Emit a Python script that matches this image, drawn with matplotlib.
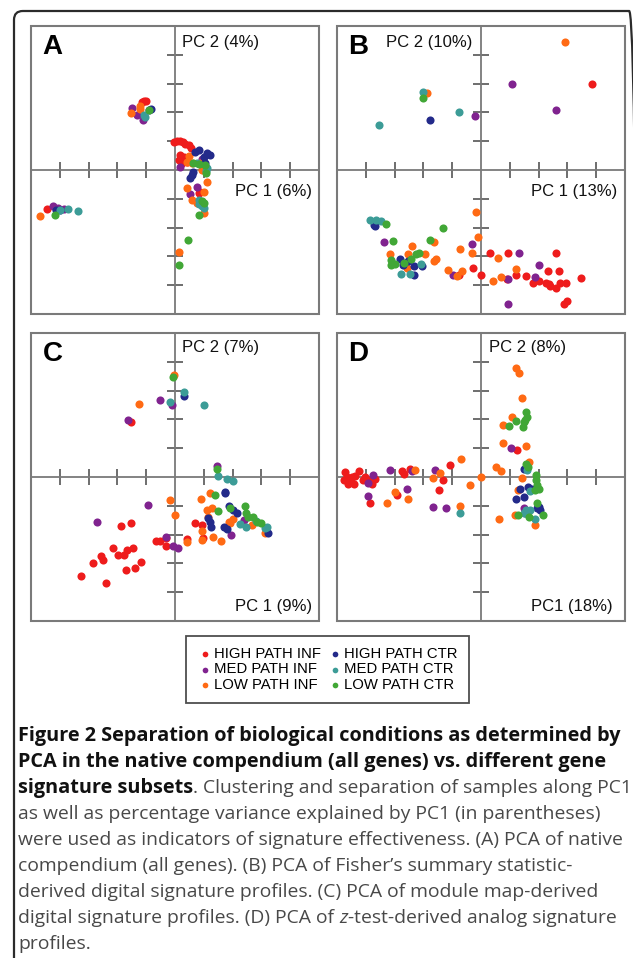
import matplotlib
matplotlib.use("Agg")
import matplotlib.pyplot as plt
from matplotlib.patches import Rectangle, FancyBboxPatch

# --- Configuration ---
plt.rcParams["font.family"] = ["Liberation Sans", "DejaVu Sans"]

W, H = 633, 958
DPI = 100

groups = ["HIGH PATH INF", "MED PATH INF", "LOW PATH INF",
          "HIGH PATH CTR", "MED PATH CTR", "LOW PATH CTR"]
colors = ["#ee1c1c", "#80238f", "#ff6a14", "#232a8a", "#3c9c97", "#41a736"]

# --- Data (PC1, PC2 scores, 1 unit = 1 tick) ---
A_HIGH_INF = [(-1.08, 2.41), (-1.14, 2.36), (-1.01, 2.41), (-4.44, -1.34),
              (-0.05, 0.98), (0.07, 0.99), (0.18, 1.01), (0.28, 0.97), (0.36, 0.92),
              (0.47, 0.86), (0.55, 0.78), (0.18, 0.52), (0.30, 0.46), (0.24, 0.23),
              (0.41, 0.29), (0.13, 0.34), (0.82, -0.80), (0.87, -0.75)]
A_MED_INF = [(-1.48, 2.16), (-1.33, 1.90), (-1.10, 1.72), (-4.24, -1.26), (-4.07, -1.32),
             (-3.86, -1.36), (0.93, 0.38), (0.18, 0.11), (0.78, -0.60), (0.53, -0.83),
             (0.99, 0.23)]
A_LOW_INF = [(-1.20, 2.21), (-1.54, 1.98), (-1.22, 2.13), (-4.70, -1.59), (0.49, 0.48),
             (0.59, 0.23), (0.87, 0.23), (1.10, -0.40), (0.41, -0.63), (0.99, -0.75),
             (0.59, -1.03), (0.99, -1.49), (0.15, -2.84), (0.76, -1.15), (0.41, 0.29),
             (0.93, 0.00)]
A_HIGH_CTR = [(-0.85, 2.13), (-0.91, 2.07), (-3.98, -1.40), (-4.13, -1.38), (0.82, 0.69),
              (0.70, 0.63), (1.10, 0.60), (1.20, 0.52), (1.00, 0.46), (0.59, -0.17),
              (0.64, -0.06), (0.53, -0.29), (1.05, 0.23)]
A_MED_CTR = [(-1.08, 1.90), (-1.05, 1.84), (-3.72, -1.36), (-3.38, -1.44), (-4.01, -1.38),
             (0.76, 0.23), (1.08, -0.02), (1.10, 0.06), (0.85, -1.03), (0.93, -1.24),
             (1.01, -1.32), (0.82, -1.17)]
A_LOW_CTR = [(-0.91, 2.09), (-4.18, -1.57), (0.64, 0.25), (0.82, 0.21), (1.05, 0.17),
             (0.93, -1.09), (0.85, -1.55), (0.44, -2.44), (0.13, -3.31), (1.00, -1.15),
             (1.08, -0.11)]

B_HIGH_INF = [(3.86, 2.99), (-0.76, -3.66), (-0.28, -3.39), (0.00, -3.66), (0.31, -2.87),
              (0.94, -2.87), (1.22, -3.66), (0.89, -3.79), (1.56, -3.68), (2.34, -3.51),
              (2.61, -2.87), (2.70, -3.51), (1.80, -3.91), (2.00, -3.87), (2.25, -3.91),
              (2.40, -4.02), (2.60, -4.11), (2.75, -3.91), (2.95, -3.94), (3.46, -3.76),
              (2.97, -4.54), (2.89, -4.66), (2.35, -3.97)]
B_MED_INF = [(1.06, 2.99), (2.59, 2.07), (-0.22, 1.86), (-0.30, -2.56), (-3.37, -2.51),
             (-0.97, -3.63), (1.31, -2.87), (0.93, -3.79), (0.94, -4.66), (1.87, -3.71),
             (2.00, -3.30)]
B_LOW_INF = [(2.92, 4.43), (-1.87, 2.67), (-0.17, -1.47), (-0.09, -2.32), (-1.62, -2.49),
             (-2.40, -2.64), (-3.17, -2.91), (-2.57, -3.39), (-2.52, -2.90), (-1.94, -2.93),
             (-1.56, -3.08), (-1.62, -3.17), (-1.16, -3.47), (-0.82, -3.68), (-0.67, -3.51),
             (-0.72, -2.74), (-0.30, -2.87), (0.60, -3.05), (1.23, -3.43), (0.71, -3.71),
             (0.40, -3.87)]
B_HIGH_CTR = [(-1.78, 1.75), (-3.69, -1.95), (-3.71, -1.90), (-2.80, -3.10), (-2.71, -3.31),
              (-2.54, -3.16), (-2.31, -3.64), (-2.05, -3.33), (-2.31, -3.33)]
B_MED_CTR = [(-0.76, 2.00), (-3.55, 1.55), (-2.03, 2.72), (-3.86, -1.75), (-3.66, -1.75),
             (-3.46, -1.78), (-2.77, -3.62), (-2.48, -3.60), (-2.08, -3.28)]
B_LOW_CTR = [(-2.01, 2.49), (-3.31, -1.87), (-1.31, -2.00), (-3.07, -2.45), (-1.76, -2.44),
             (-3.11, -3.13), (-3.13, -3.30), (-2.99, -3.28), (-2.26, -2.90), (-2.17, -2.87),
             (-2.43, -3.10), (-2.66, -3.22)]

C_HIGH_INF = [(-1.54, 1.90), (0.97, -2.13), (0.93, -1.68), (0.69, -1.59), (0.41, -2.16),
              (-1.52, -1.61), (-1.86, -1.70), (-0.67, -2.21), (-0.51, -2.21), (-0.30, -2.13),
              (-0.32, -2.39), (-2.15, -2.45), (-1.47, -2.47), (-1.68, -2.55), (-1.98, -2.72),
              (-1.77, -2.70), (-2.57, -2.76), (-2.49, -2.87), (-2.83, -2.97), (-1.17, -2.94),
              (-1.40, -3.16), (-1.69, -3.22), (-3.28, -3.43), (-2.39, -3.68)]
C_MED_INF = [(-0.11, 2.51), (-0.53, 2.67), (-1.62, 1.97), (1.47, 0.38), (2.39, -1.49),
             (1.93, -2.01), (-0.93, -0.98), (-2.70, -1.56), (-0.32, -2.07), (-0.07, -2.38),
             (0.09, -2.48)]
C_LOW_INF = [(-0.02, 3.53), (-1.25, 2.53), (1.22, -0.57), (0.90, -0.78), (1.28, -1.06),
             (1.10, -1.15), (1.13, -1.38), (1.91, -1.61), (2.02, -1.46), (1.86, -1.55),
             (3.14, -1.93), (2.66, -1.67), (1.59, -2.22), (1.31, -2.07), (0.93, -1.86),
             (0.93, -2.18), (0.41, -2.24), (0.00, -1.32), (-0.18, -0.80)]
C_HIGH_CTR = [(0.31, 2.82), (1.75, -0.52), (1.74, -0.57), (1.86, -0.99), (2.03, -1.15),
              (2.17, -1.24), (1.13, -1.44), (1.22, -1.55), (1.24, -1.75), (1.70, -1.72),
              (1.79, -1.82), (3.24, -1.95)]
C_MED_CTR = [(0.32, 2.94), (-0.16, 2.61), (0.99, 2.49), (1.51, 0.02), (1.79, -0.06),
             (2.02, -0.14), (2.25, -1.63), (2.48, -1.72), (2.80, -1.53), (3.11, -1.78),
             (3.20, -1.75)]
C_LOW_CTR = [(-0.06, 3.48), (1.47, 0.29), (1.39, -0.63), (2.43, -1.00), (1.91, -1.09),
             (1.51, -1.18), (2.48, -1.26), (2.53, -1.38), (2.71, -1.38), (2.83, -1.55),
             (3.00, -1.61)]

D_HIGH_INF = [(1.25, 0.94), (-4.72, 0.17), (-4.67, 0.00), (-4.75, -0.09), (-4.55, -0.11),
              (-4.40, -0.25), (-4.49, 0.00), (-4.38, 0.02), (-4.23, 0.21), (-4.09, -0.09),
              (-3.91, -0.11), (-3.77, -0.26), (-3.69, -0.06), (-3.87, -0.90), (-4.03, 0.00),
              (-4.61, -0.23), (-2.75, 0.21), (-2.68, 0.11), (-2.45, 0.28), (-2.91, -0.62),
              (-1.47, -0.44), (-1.31, -0.11), (-1.09, 0.40)]
D_MED_INF = [(1.05, 0.99), (1.51, -1.07), (-3.76, 0.06), (-3.91, -0.20), (-3.94, -0.66),
             (-3.17, 0.25), (-2.56, -0.43), (-2.40, 0.20), (-1.59, 0.23), (-1.67, -1.03),
             (-1.21, -1.09)]
D_LOW_INF = [(1.22, 3.79), (1.32, 3.61), (1.44, 2.76), (1.06, 2.10), (0.77, 1.82),
             (0.76, 1.17), (1.56, 1.09), (1.66, 0.51), (0.53, 0.34), (0.68, 0.21),
             (0.01, 0.00), (1.43, -0.05), (1.28, -0.46), (1.17, -1.32), (1.87, -1.67),
             (0.61, -1.47), (-2.28, 0.25), (-2.99, -0.53), (-2.52, -0.75), (-3.28, -0.92),
             (-1.67, -0.02), (-1.41, 0.15), (-0.69, 0.62), (-0.39, -0.29), (-0.72, -1.01)]
D_HIGH_CTR = [(1.51, 0.29), (1.34, -0.40), (1.20, -0.75), (1.51, -0.69), (1.62, -0.34),
              (1.77, -0.40), (1.54, -1.26), (2.02, -1.03), (2.06, -1.15), (1.94, -1.09)]
D_MED_CTR = [(1.60, 0.23), (1.71, -0.48), (1.57, -1.15), (1.71, -1.13), (1.86, -1.47),
             (1.51, -1.24), (-0.72, -1.24)]
D_LOW_CTR = [(1.20, 1.95), (0.97, 1.78), (1.56, 2.24), (1.59, 2.07), (1.51, 1.90),
             (1.45, 1.75), (1.54, 1.98), (1.57, 0.44), (1.62, 0.34), (1.91, 0.06),
             (1.92, -0.11), (1.94, -0.29), (1.89, -0.46), (2.00, -0.40), (1.94, -0.92),
             (2.16, -1.31), (1.68, -1.38), (1.28, -1.32)]

panels = [
    ("A", [A_HIGH_INF, A_MED_INF, A_LOW_INF, A_HIGH_CTR, A_MED_CTR, A_LOW_CTR],
     "PC 1 (6%)", "PC 2 (4%)"),
    ("B", [B_HIGH_INF, B_MED_INF, B_LOW_INF, B_HIGH_CTR, B_MED_CTR, B_LOW_CTR],
     "PC 1 (13%)", "PC 2 (10%)"),
    ("C", [C_HIGH_INF, C_MED_INF, C_LOW_INF, C_HIGH_CTR, C_MED_CTR, C_LOW_CTR],
     "PC 1 (9%)", "PC 2 (7%)"),
    ("D", [D_HIGH_INF, D_MED_INF, D_LOW_INF, D_HIGH_CTR, D_MED_CTR, D_LOW_CTR],
     "PC1 (18%)", "PC 2 (8%)"),
]

# panel boxes in pixels: left, top, size
boxes = [(31, 26), (337, 26), (31, 333), (337, 333)]
# pc1 label (x frac, y frac), pc2 label (x frac, y frac, ha)
pc1_pos = [(0.976, 0.427), (0.972, 0.427), (0.976, 0.052), (0.958, 0.052)]
pc2_pos = [(0.524, 0.944, "left"), (0.469, 0.944, "right"),
           (0.524, 0.948, "left"), (0.528, 0.948, "left")]

fig = plt.figure(figsize=(W / DPI, H / DPI), dpi=DPI)

# outer frame with rounded top corners (right edge falls just off the page)
frame = FancyBboxPatch((14 / W, -0.05), (638 - 14) / W, 1.05 - 11 / H,
                       boxstyle="round,pad=0,rounding_size=0.014",
                       transform=fig.transFigure, fill=False,
                       edgecolor="#2b2b2b", linewidth=1.6, mutation_aspect=W / H)
fig.patches.append(frame)

grey = "#7a7a7a"
handles = []
for i, (letter, data, pc1, pc2) in enumerate(panels):
    left, top = boxes[i]
    size = 288
    ax = fig.add_axes([left / W, 1 - (top + size) / H, size / W, size / H])
    ax.set_xlim(-5, 5)
    ax.set_ylim(-5, 5)
    for g, pts in enumerate(data):
        xs = [p[0] for p in pts]
        ys = [p[1] for p in pts]
        sc = ax.scatter(xs, ys, s=34, color=colors[g], linewidths=0, zorder=3,
                        label=groups[g])
        if i == 0:
            handles.append(sc)

    # axes through the origin with crossing ticks
    ax.spines["left"].set_position(("data", 0))
    ax.spines["bottom"].set_position(("data", 0))
    ax.spines["top"].set_visible(False)
    ax.spines["right"].set_visible(False)
    for sp in ["left", "bottom"]:
        ax.spines[sp].set_color(grey)
        ax.spines[sp].set_linewidth(1.3)
    ax.xaxis.set_ticks_position("bottom")
    ax.yaxis.set_ticks_position("left")
    ticks = [-4, -3, -2, -1, 1, 2, 3, 4]
    ax.set_xticks(ticks)
    ax.set_yticks(ticks)
    ax.set_xticklabels([])
    ax.set_yticklabels([])
    ax.tick_params(direction="inout", length=11, width=1.2, color="#555555")
    ax.add_patch(Rectangle((0, 0), 1, 1, transform=ax.transAxes, fill=False,
                           edgecolor=grey, linewidth=1.5, clip_on=False, zorder=5))

    ax.text(0.04, 0.927, letter, transform=ax.transAxes, fontsize=20,
            fontweight="bold", ha="left", va="center")
    px, py = pc1_pos[i]
    ax.text(px, py, pc1, transform=ax.transAxes, fontsize=12, ha="right", va="center",
            color="#111111")
    qx, qy, qha = pc2_pos[i]
    ax.text(qx, qy, pc2, transform=ax.transAxes, fontsize=12, ha=qha, va="center",
            color="#111111")

leg = fig.legend(handles, groups, ncol=2, loc="center",
                 bbox_to_anchor=(327.5 / W, 1 - 669.5 / H), fontsize=10.7,
                 frameon=True, fancybox=False, edgecolor="#222222",
                 handletextpad=0.1, columnspacing=0.45, labelspacing=0.1,
                 borderpad=0.75, handlelength=1.0, markerscale=0.7)
leg.get_frame().set_linewidth(1.3)

# --- Caption ---
cap_font = ["Open Sans", "DejaVu Sans"]
x0 = 18
line_y = [736, 762, 788, 814, 840, 866, 892, 918, 944]
lines = [
    [("Figure 2 Separation of biological conditions as determined by", "bold", "normal")],
    [("PCA in the native compendium (all genes) vs. different gene", "bold", "normal")],
    [("signature subsets", "bold", "normal"),
     (". Clustering and separation of samples along PC1", "normal", "normal")],
    [("as well as percentage variance explained by PC1 (in parentheses)", "normal", "normal")],
    [("were used as indicators of signature effectiveness. (A) PCA of native", "normal", "normal")],
    [("compendium (all genes). (B) PCA of Fisher\u2019s summary statistic-", "normal", "normal")],
    [("derived digital signature profiles. (C) PCA of module map-derived", "normal", "normal")],
    [("digital signature profiles. (D) PCA of ", "normal", "normal"),
     ("z", "normal", "italic"),
     ("-test-derived analog signature", "normal", "normal")],
    [("profiles.", "normal", "normal")],
]
renderer = fig.canvas.get_renderer()
for y, runs in zip(line_y, lines):
    x = x0
    for txt, weight, style in runs:
        size = 14.3 if weight == "bold" else 13.9
        t = fig.text(x / W, 1 - y / H, txt, fontsize=size, family=cap_font,
                     fontweight=weight, fontstyle=style, ha="left", va="center",
                     color="#111111" if weight == "bold" else "#484848")
        bb = t.get_window_extent(renderer)
        x = bb.x1

fig.savefig("out.png", dpi=DPI)
